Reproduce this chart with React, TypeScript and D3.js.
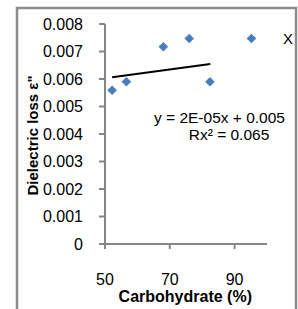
import React from "react";
import * as d3 from "d3";

const carbohydrate = [52.2, 56.6, 68.0, 76.0, 82.4, 95.2];
const dielectricLoss = [0.00559, 0.0059, 0.00717, 0.00747, 0.0059, 0.00747];
const xTicks = [50, 70, 90];
const yTicks = [0, 0.001, 0.002, 0.003, 0.004, 0.005, 0.006, 0.007, 0.008];
const yTickLabels = ["0", "0.001", "0.002", "0.003", "0.004", "0.005", "0.006", "0.007", "0.008"];
const trendSlope = 1.6e-5;
const trendIntercept = 0.005225;
const trendRange = [52.2, 82.5];
const equationText = "y = 2E-05x + 0.005";
const r2Text = "Rx² = 0.065";
const seriesLabel = "X";

const W = 298;
const H = 309;
const font = "'Liberation Sans', Arial, sans-serif";
const axisColor = "#868686";
const pointColor = "#4a7ebb";

export default function App() {
  const x = d3.scaleLinear().domain([50, 100]).range([105, 267]);
  const y = d3.scaleLinear().domain([0, 0.008]).range([244, 24]);
  const diamond = d3.symbol().type(d3.symbolSquare).size(46)();
  const trend = d3
    .line<number>()
    .x((d) => x(d))
    .y((d) => y(trendSlope * d + trendIntercept))(trendRange);

  return (
    <svg
      width={W}
      height={H}
      style={{ position: "absolute", left: 0, top: 0, background: "#fff" }}
      fontFamily={font}
    >
      <rect x={17} y={8} width={279} height={330} fill="#fff" stroke="#8c8c8c" strokeWidth={2.5} />
      {/* y axis */}
      <line x1={x(50)} x2={x(50)} y1={y(0.008)} y2={y(0) + 5} stroke={axisColor} strokeWidth={2} />
      {yTicks.map((t, i) => (
        <g key={"yt" + i}>
          <line x1={x(50) - 6} x2={x(50)} y1={y(t)} y2={y(t)} stroke={axisColor} strokeWidth={2} />
          <text x={83} y={y(t)} dy="0.36em" textAnchor="end" fontSize={16} fill="#000">
            {yTickLabels[i]}
          </text>
        </g>
      ))}
      {/* x axis */}
      <line x1={x(50) - 6} x2={x(100)} y1={y(0)} y2={y(0)} stroke={axisColor} strokeWidth={2} />
      {xTicks.map((t) => (
        <g key={"xt" + t}>
          <line x1={x(t)} x2={x(t)} y1={y(0)} y2={y(0) + 5} stroke={axisColor} strokeWidth={2} />
          <text x={x(t)} y={284.5} textAnchor="middle" fontSize={16} fill="#000">
            {t}
          </text>
        </g>
      ))}
      {/* trendline */}
      <path d={trend || ""} fill="none" stroke="#000" strokeWidth={2} />
      {/* points */}
      {carbohydrate.map((c, i) => (
        <path
          key={"p" + i}
          d={diamond || ""}
          transform={`translate(${x(c)},${y(dielectricLoss[i])}) rotate(45)`}
          fill={pointColor}
        />
      ))}
      <text x={288} y={43.5} textAnchor="middle" fontSize={15} fill="#000">
        {seriesLabel}
      </text>
      <text x={219.5} y={122.5} textAnchor="middle" fontSize={15.5} fill="#000">
        {equationText}
      </text>
      <text x={229} y={139.5} textAnchor="middle" fontSize={15.5} fill="#000">
        {r2Text}
      </text>
      <text x={185.3} y={301.5} textAnchor="middle" fontSize={16} fontWeight="bold" fill="#000">
        Carbohydrate (%)
      </text>
      <text
        transform={`translate(37.5,135.5) rotate(-90)`}
        textAnchor="middle"
        fontSize={15}
        fontWeight="bold"
        fill="#000"
      >
        Dielectric loss ε"
      </text>
    </svg>
  );
}
